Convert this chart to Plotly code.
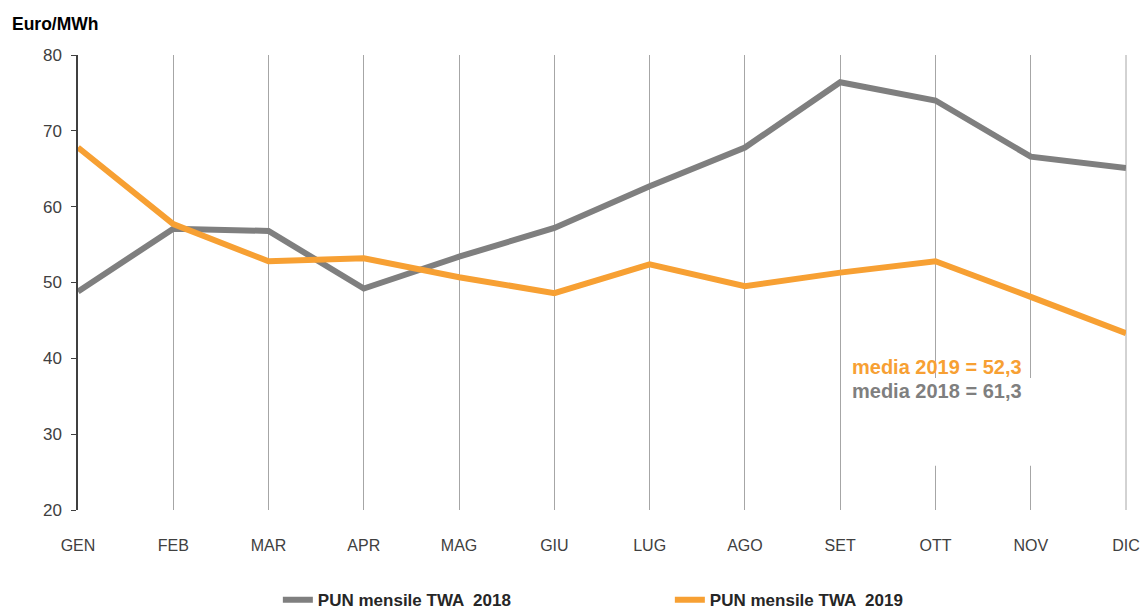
import plotly.graph_objects as go

# Monthly PUN (time-weighted average), Euro/MWh
months = ["GEN", "FEB", "MAR", "APR", "MAG", "GIU", "LUG", "AGO", "SET", "OTT", "NOV", "DIC"]
pun_2018 = [48.8, 57.1, 56.8, 49.2, 53.4, 57.2, 62.7, 67.8, 76.4, 74.0, 66.6, 65.1]
pun_2019 = [67.8, 57.7, 52.8, 53.2, 50.7, 48.6, 52.4, 49.5, 51.3, 52.8, 48.1, 43.3]
avg_2018 = "61,3"
avg_2019 = "52,3"

GRAY = "#7f7f7f"
ORANGE = "#f7a033"
AXIS = "#404040"
GRID = "#a6a6a6"
FONT = "Liberation Sans, Arial, sans-serif"

fig = go.Figure()
fig.add_trace(go.Scatter(x=months, y=pun_2018, mode="lines", name="PUN mensile TWA  2018",
                         line=dict(color=GRAY, width=6)))
fig.add_trace(go.Scatter(x=months, y=pun_2019, mode="lines", name="PUN mensile TWA  2019",
                         line=dict(color=ORANGE, width=6)))

# right-hand frame line of the plot area, styled like the vertical grid
fig.add_shape(type="line", xref="paper", yref="paper", x0=1, x1=1, y0=0, y1=1,
              line=dict(color=GRID, width=1), layer="below")

# white panel behind the averages box (interrupts the vertical grid)
fig.add_shape(type="rect", xref="paper", yref="paper", x0=0.734, x1=0.975, y0=0.097, y1=0.29,
              fillcolor="white", line=dict(width=0), layer="above")

fig.add_annotation(xref="paper", yref="paper", x=0.7365, y=0.3143, xanchor="left", yanchor="middle",
                   text=f"<b>media 2019 = {avg_2019}</b>", showarrow=False,
                   font=dict(family=FONT, size=20, color=ORANGE))
fig.add_annotation(xref="paper", yref="paper", x=0.7365, y=0.2615, xanchor="left", yanchor="middle",
                   text=f"<b>media 2018 = {avg_2018}</b>", showarrow=False,
                   font=dict(family=FONT, size=20, color=GRAY))
fig.add_annotation(xref="paper", yref="paper", x=-0.0649, y=1.068, xanchor="left", yanchor="middle",
                   text="<b>Euro/MWh</b>", showarrow=False,
                   font=dict(family=FONT, size=17.5, color="black"))

fig.update_layout(
    width=1145, height=610,
    margin=dict(l=78, r=19, t=55, b=100, autoexpand=False),
    paper_bgcolor="white", plot_bgcolor="rgba(0,0,0,0)",
    font=dict(family=FONT, color=AXIS),
    showlegend=True,
    legend=dict(orientation="h", x=0.1907, y=-0.198, xanchor="left", yanchor="middle",
                entrywidth=347, entrywidthmode="pixels", bgcolor="rgba(0,0,0,0)",
                font=dict(family=FONT, size=17, color="#262626", weight="bold")),
)
fig.update_xaxes(type="category", range=[0, 11], showgrid=True, gridcolor=GRID, gridwidth=1,
                 showline=False, zeroline=False, ticks="", ticklabelstandoff=24,
                 tickfont=dict(size=16, color=AXIS))
fig.update_yaxes(range=[20, 80], dtick=10, showgrid=False, zeroline=False,
                 showline=True, linecolor=AXIS, linewidth=1.5,
                 ticks="outside", ticklen=5, tickcolor=AXIS, ticklabelstandoff=6,
                 tickfont=dict(size=17, color=AXIS))

fig.write_html("out.html")
